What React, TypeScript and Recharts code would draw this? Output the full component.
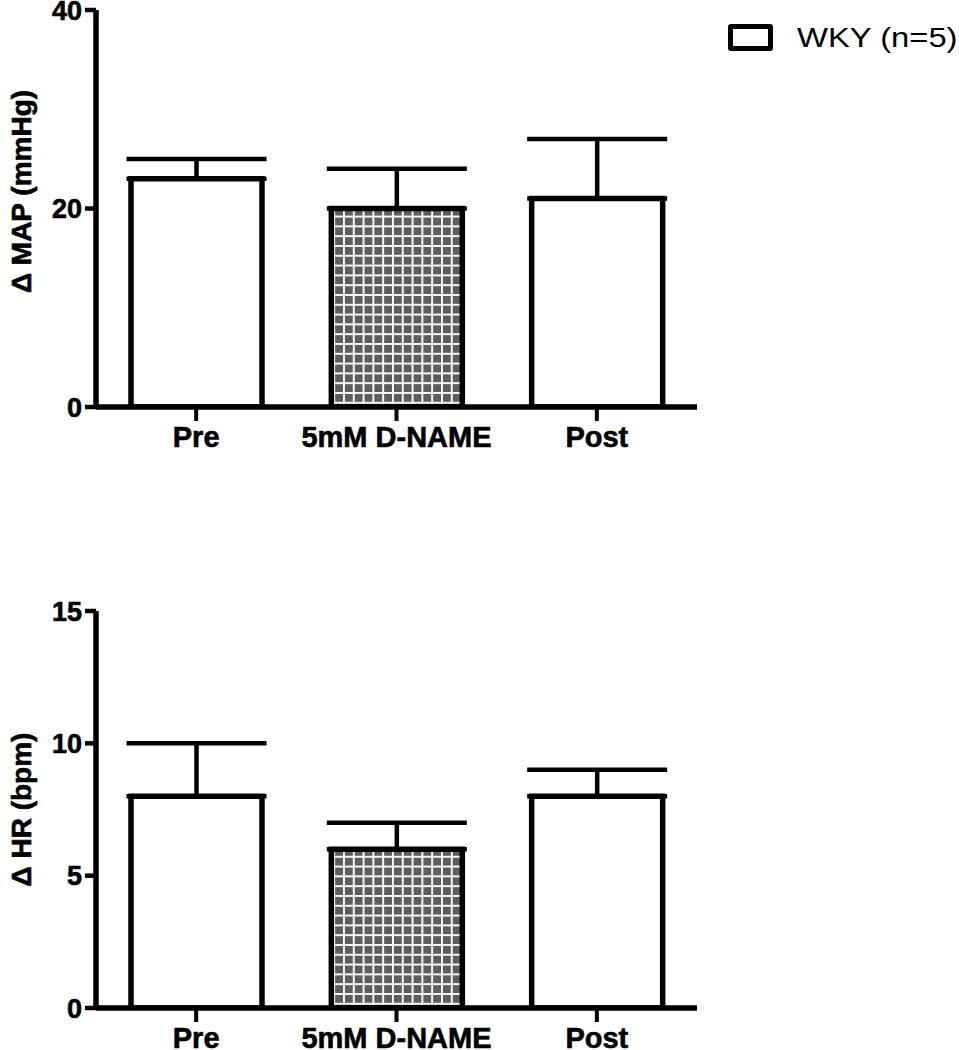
import React from 'react';
import { BarChart, Bar, XAxis, YAxis, ErrorBar, Cell, Label } from 'recharts';

const categories = ['Pre', '5mM D-NAME', 'Post'];
const mapMeans = [23, 20, 21];
const mapSem = [2, 4, 6];
const hrMeans = [8, 6, 8];
const hrSem = [2, 1, 1];
const mapTicks = [0, 20, 40];
const hrTicks = [0, 5, 10, 15];
const barFills = ['#ffffff', 'pattern', '#ffffff'];
const legendLabel = 'WKY (n=5)';

const FONT = '"Liberation Sans", Arial, Helvetica, sans-serif';

type PanelProps = {
  id: string;
  means: number[];
  sem: number[];
  ticks: number[];
  yLabel: string;
  top: number;
  labelShift: number;
};

const Panel = ({ id, means, sem, ticks, yLabel, top, labelShift }: PanelProps) => {
  const data = categories.map((c, i) => ({ name: c, value: means[i], err: [0, sem[i]] }));
  const maxTick = ticks[ticks.length - 1];
  const YLab = (props: any) => {
    const vb = props.viewBox || { x: 0, y: 0, width: 0, height: 0 };
    const cx = 31;
    const cy = vb.y + vb.height / 2 + labelShift;
    return (
      <text
        x={cx}
        y={cy}
        transform={`rotate(-90 ${cx} ${cy})`}
        textAnchor="middle"
        fontFamily={FONT}
        fontWeight="bold"
        fontSize={28}
        fill="#000"
        stroke="#000"
        strokeWidth={0.6}
      >
        {yLabel}
      </text>
    );
  };
  return (
    <div style={{ position: 'absolute', left: 0, top }}>
      <BarChart
        width={959}
        height={470}
        data={data}
        margin={{ top: 10, right: 262, bottom: 13, left: 0 }}
        barSize={131}
      >
        <defs>
          <pattern id={id} patternUnits="userSpaceOnUse" width={9.8} height={9.8}>
            <rect x={0} y={0} width={9.8} height={9.8} fill="#ffffff" />
            <rect x={1.9} y={1.9} width={7.9} height={7.9} fill="#5e5e5e" />
          </pattern>
        </defs>
        <XAxis
          dataKey="name"
          height={50}
          axisLine={{ stroke: '#000', strokeWidth: 5.5 }}
          tickLine={{ stroke: '#000', strokeWidth: 4 }}
          tickSize={14}
          tickMargin={5}
          tick={{ fill: '#000', stroke: '#000', strokeWidth: 0.6, fontFamily: FONT, fontWeight: 'bold', fontSize: 29 }}
        />
        <YAxis
          width={96}
          domain={[0, maxTick]}
          ticks={ticks}
          interval={0}
          allowDataOverflow
          axisLine={{ stroke: '#000', strokeWidth: 5.5 }}
          tickLine={{ stroke: '#000', strokeWidth: 4.5 }}
          tickSize={11}
          tickMargin={3}
          tick={{ fill: '#000', stroke: '#000', strokeWidth: 0.6, fontFamily: FONT, fontWeight: 'bold', fontSize: 27 }}
        >
          <Label content={YLab} />
        </YAxis>
        <Bar dataKey="value" stroke="#000" strokeWidth={5.5} isAnimationActive={false}>
          {data.map((d, i) => (
            <Cell key={d.name} fill={barFills[i] === 'pattern' ? `url(#${id})` : barFills[i]} />
          ))}
          <ErrorBar dataKey="err" width={70} stroke="#000" strokeWidth={4.5} direction="y" />
        </Bar>
      </BarChart>
    </div>
  );
};

export default function App() {
  return (
    <div style={{ position: 'absolute', left: 0, top: 0, width: 959, height: 1050, background: '#fff', fontFamily: FONT, overflow: 'hidden' }}>
      <Panel id="gridA" means={mapMeans} sem={mapSem} ticks={mapTicks} yLabel="Δ MAP (mmHg)" top={0} labelShift={-17} />
      <Panel id="gridB" means={hrMeans} sem={hrSem} ticks={hrTicks} yLabel="Δ HR (bpm)" top={601} labelShift={0} />
      <div style={{ position: 'absolute', left: 728, top: 24, display: 'flex', alignItems: 'center' }}>
        <div style={{ width: 35, height: 17, border: '5px solid #000', borderRadius: 3, background: '#fff' }} />
        <span
          style={{
            marginLeft: 24,
            fontSize: 28,
            lineHeight: '27px',
            color: '#000',
            fontFamily: FONT,
            whiteSpace: 'nowrap',
            display: 'inline-block',
            transform: 'scaleX(1.17)',
            transformOrigin: 'left center',
          }}
        >
          {legendLabel}
        </span>
      </div>
    </div>
  );
}
